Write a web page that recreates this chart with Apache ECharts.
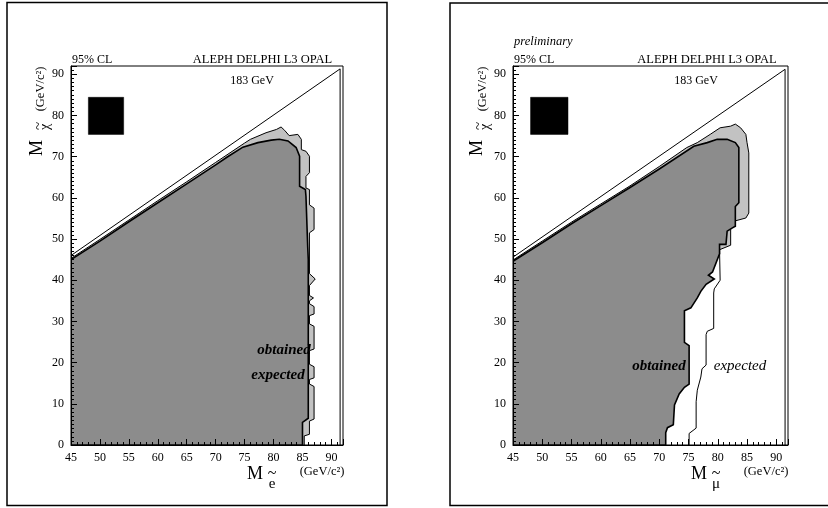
<!DOCTYPE html>
<html><head><meta charset="utf-8">
<script src="https://cdn.jsdelivr.net/npm/echarts@6/dist/echarts.min.js"></script>
<style>html,body{margin:0;padding:0;background:#fff}#c{width:828px;height:508px}</style>
</head><body><div id="c"></div>
<script>
// ---- data (GeV/c^2) ----
const xTicks = [45,50,55,60,65,70,75,80,85,90];
const yTicks = [0,10,20,30,40,50,60,70,80,90];
// left panel: selectron
const leftExpected = [[45,0],[45,45.3],[50,49.9],[55,54.6],[60,59.3],[65,63.9],[70,68.6],[75,73.3],[76,74.2],[78.7,75.8],[80.5,76.6],[81.3,77.2],[81.9,76.4],[82.7,75.1],[84.2,75.4],[84.8,74.2],[84.8,71.7],[85.6,71.3],[86.2,70.1],[86.2,66.1],[85.6,65.2],[85.6,62.4],[86.2,62.0],[86.2,58.3],[87.0,57.5],[87.0,52.3],[86.2,51.5],[86.2,41.6],[87.2,40.3],[86.2,38.7],[86.2,36.3],[86.9,35.7],[86.2,35.0],[86.2,34.3],[87.0,33.6],[87.0,31.8],[86.2,31.4],[86.2,29.4],[87.0,28.8],[87.0,23.3],[86.2,22.9],[86.2,19.6],[87.0,19.0],[87.0,16.3],[86.2,15.9],[86.2,14.8],[87.0,14.2],[87.0,6.3],[86.2,5.8],[86.2,2.6],[85.3,2.2],[85.3,0]];
const leftObtained = [[45,0],[45,45.0],[50,49.5],[55,54.2],[60,58.8],[65,63.4],[70,68.0],[72,69.9],[74.7,72.3],[77.3,73.4],[79.6,74.0],[81.0,74.2],[82.5,73.8],[83.9,72.2],[84.5,70.1],[84.5,62.8],[85.5,62.0],[85.6,60.4],[85.9,48.2],[86.0,45.0],[86.0,6.5],[85.0,5.5],[85.0,0]];
const leftLimit = [[45,46.0],[91.5,91.3],[91.5,0]];
const leftBox = [[48,75.4],[54.1,75.4],[54.1,84.4],[48,84.4]];
// right panel: smuon
const rightExpected = [[45,44.9],[50,49.5],[55,54.1],[60,58.5],[65,62.9],[70,67.6],[74.7,72.2],[76.5,73.4],[78.7,75.4],[80.4,77.0],[82.2,77.4],[83.0,77.9],[83.9,77.0],[84.8,75.4],[85.0,73.4],[85.3,70.9],[85.3,56.3],[84.8,55.1],[82.7,54.3],[82.2,52.3],[82.2,48.5],[80.3,47.4],[80.3,46.4],[78.0,40.0],[45,40.0]];
const rightObtained = [[45,0],[45,44.6],[50,49.1],[55,53.7],[60,58.1],[65,62.5],[70,67.0],[75.9,72.5],[78.2,73.4],[79.9,74.2],[81.6,74.2],[83.0,73.4],[83.6,72.2],[83.6,58.8],[83.0,57.9],[83.0,53.1],[82.5,52.7],[81.6,51.9],[81.4,48.7],[80.3,48.7],[80.3,46.4],[79.1,42.0],[78.4,41.2],[79.4,40.3],[78.0,39.0],[77.1,37.3],[76.5,35.7],[75.4,33.3],[74.3,32.6],[74.3,24.9],[75.1,24.1],[75.1,14.8],[74.3,14.0],[73.4,12.4],[72.6,9.7],[72.4,4.9],[71.4,4.2],[71.1,3.0],[71.1,0]];
const rightExpectedLine = [[80.3,47.4],[80.4,40.0],[79.4,37.9],[79.3,36.9],[79.3,28.3],[78.2,27.6],[78.0,26.8],[78.0,19.4],[77.3,18.5],[77.1,16.5],[76.5,13.3],[76.3,10.5],[76.3,4.1],[75.1,2.8],[75.1,0]];
const rightLimit = [[45,45.6],[91.5,91.2],[91.5,0]];
const rightBox = [[48,75.4],[54.4,75.4],[54.4,84.4],[48,84.4]];

const SERIF = 'Liberation Serif';
const chart = echarts.init(document.getElementById('c'), null, {renderer:'canvas'});

function poly(idx, pts, fill, stroke, lw, z){
  return {type:'custom', xAxisIndex:idx, yAxisIndex:idx, z:z, silent:true, clip:true,
    data:[[pts[0][0], pts[0][1]]],
    renderItem:function(params, api){
      return {type:'polygon', shape:{points: pts.map(p=>api.coord(p))},
        style:{fill:fill, stroke:stroke, lineWidth:lw, lineJoin:'miter'}};
    }};
}
function line(idx, pts, lw, z){
  return {type:'line', xAxisIndex:idx, yAxisIndex:idx, data:pts, symbol:'none', z:z, silent:true,
    lineStyle:{color:'#000', width:lw}, animation:false};
}
function xAx(idx){
  return {gridIndex:idx, type:'value', min:45, max:92, interval:5, z:10,
    axisLine:{onZero:false, lineStyle:{color:'#000', width:1}},
    axisTick:{inside:true, length:6, lineStyle:{color:'#000'}},
    minorTick:{show:true, splitNumber:5, length:3, lineStyle:{color:'#000'}},
    splitLine:{show:false},
    axisLabel:{color:'#000', fontFamily:SERIF, fontSize:12, margin:7, showMaxLabel:false,
      formatter:v=> xTicks.indexOf(v)>=0 ? String(v) : ''}};
}
function yAx(idx){
  return {gridIndex:idx, type:'value', min:0, max:92, interval:10, z:10,
    axisLine:{onZero:false, lineStyle:{color:'#000', width:1}},
    axisTick:{inside:true, length:6, lineStyle:{color:'#000'}},
    minorTick:{show:true, splitNumber:10, length:3, lineStyle:{color:'#000'}},
    splitLine:{show:false},
    axisLabel:{color:'#000', fontFamily:SERIF, fontSize:12, margin:7, showMaxLabel:false,
      formatter:v=> yTicks.indexOf(v)>=0 ? String(v) : ''}};
}
const EXP_FILL = '#c2c2c2', OBT_FILL = '#8c8c8c';
function txt(x,y,t,size,opts){
  opts = opts||{};
  return {type:'text', x:x, y:y, rotation:opts.rot||0, z:100,
    style:{text:t, fill:'#000', font:(opts.style||'')+' '+(opts.weight||'normal')+' '+size+'px "'+SERIF+'"',
      align:opts.align||'center', verticalAlign:'middle'}};
}
const R = Math.PI/2;
const graphics = [
  {type:'rect', shape:{x:7,y:2.5,width:380,height:503}, style:{fill:'none', stroke:'#000', lineWidth:1.5}, z:100},
  {type:'rect', shape:{x:450,y:3,width:390,height:502.5}, style:{fill:'none', stroke:'#000', lineWidth:1.5}, z:100},
  // left panel texts
  txt(72,60,'95% CL',12,{align:'left'}),
  txt(262.5,60,'ALEPH DELPHI L3 OPAL',12.5),
  txt(252,81,'183 GeV',12),
  txt(284,350,'obtained',15,{style:'italic', weight:'bold'}),
  txt(278,375,'expected',15,{style:'italic', weight:'bold'}),
  txt(37,148,'M',18,{rot:R}),
  txt(39,126,'~',15,{rot:R}),
  txt(45,127,'χ',14,{rot:R}),
  txt(41,89,'(GeV/c²)',12.5,{rot:R}),
  txt(255,474,'M',18),
  txt(272,474,'~',16),
  txt(272,484,'e',15),
  txt(322,472,'(GeV/c²)',12.5),
  // right panel texts
  txt(514,42,'preliminary',12.5,{align:'left', style:'italic'}),
  txt(514,60,'95% CL',12,{align:'left'}),
  txt(707,60,'ALEPH DELPHI L3 OPAL',12.5),
  txt(696,81,'183 GeV',12),
  txt(659,366,'obtained',15,{style:'italic', weight:'bold'}),
  txt(740,366,'expected',15,{style:'italic'}),
  txt(477,148,'M',18,{rot:R}),
  txt(479,126,'~',15,{rot:R}),
  txt(485,127,'χ',14,{rot:R}),
  txt(483,89,'(GeV/c²)',12.5,{rot:R}),
  txt(699,474,'M',18),
  txt(716,474,'~',16),
  txt(716,484,'μ',15),
  txt(766,472,'(GeV/c²)',12.5)
];
chart.setOption({
  animation:false,
  backgroundColor:'#fff',
  grid:[
    {left:71, top:66, width:272, height:379, show:true, borderColor:'#000', borderWidth:1, backgroundColor:'transparent'},
    {left:513, top:66, width:275, height:379, show:true, borderColor:'#000', borderWidth:1, backgroundColor:'transparent'}
  ],
  xAxis:[xAx(0), xAx(1)],
  yAxis:[yAx(0), yAx(1)],
  series:[
    poly(0, leftExpected, EXP_FILL, '#000', 1, 2),
    poly(0, leftObtained, OBT_FILL, '#000', 1.6, 3),
    line(0, leftLimit, 1, 4),
    poly(0, leftBox, '#000', '#000', 0.5, 5),
    poly(1, rightExpected, EXP_FILL, '#000', 1, 2),
    poly(1, rightObtained, OBT_FILL, '#000', 1.6, 3),
    line(1, rightExpectedLine, 1, 4),
    line(1, rightLimit, 1, 4),
    poly(1, rightBox, '#000', '#000', 0.5, 5)
  ],
  graphic: graphics
});
</script></body></html>
